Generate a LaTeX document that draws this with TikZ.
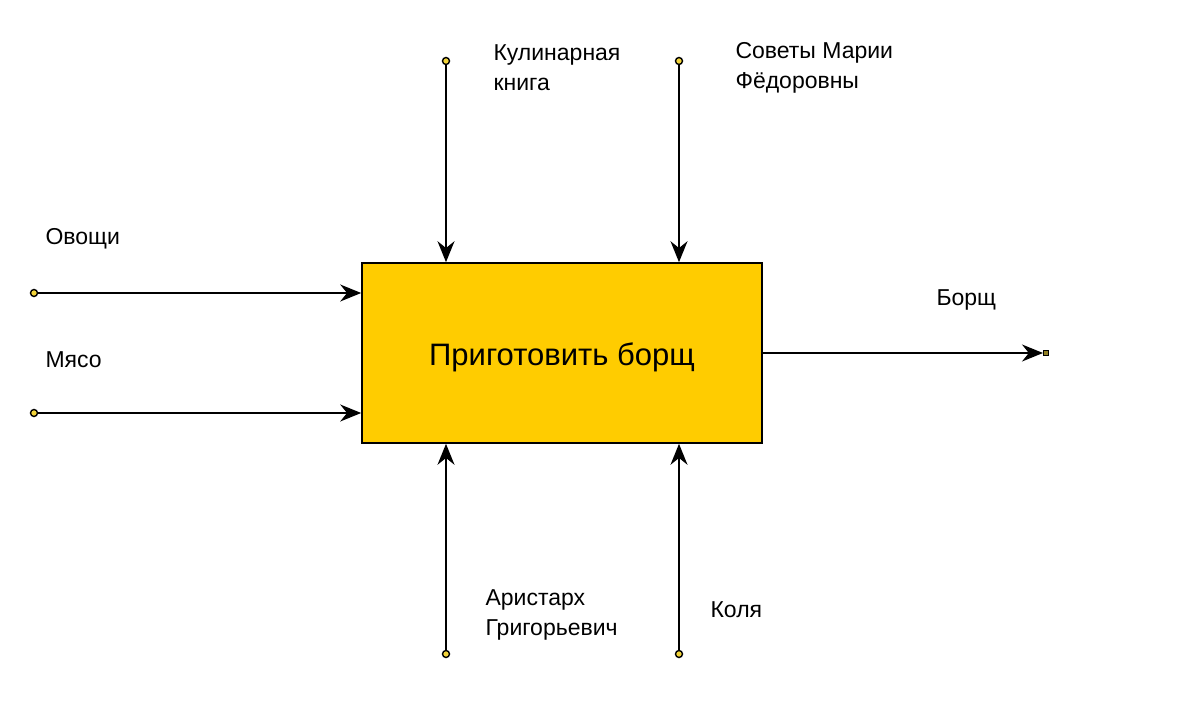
\documentclass[tikz,border=0pt]{standalone}
\usepackage{fontspec}
\setmainfont{Liberation Sans}
\usetikzlibrary{arrows.meta,positioning}

\begin{document}
\begin{tikzpicture}[
    x=1pt, y=-1pt,
    process/.style={
        rectangle,
        draw=black,
        fill=funccolor,
        line width=1.6pt,
        minimum width=400pt,
        minimum height=180pt
    },
    dot/.style={
        circle,
        draw=black,
        fill=dotcolor,
        line width=1.4pt,
        inner sep=0pt,
        minimum size=7pt
    },
    arrow/.style={
        -{Stealth[length=21pt,width=17pt]},
        line width=1.6pt
    },
    lbl/.style={
        anchor=west,
        align=left,
        font=\fontsize{23}{30}\selectfont
    }
]

% Colour Palette
\definecolor{funccolor}{HTML}{FFCC00}
\definecolor{dotcolor}{HTML}{F2D43A}

\useasboundingbox (0,0) rectangle (1200,703);

% Function block
\node[process] (box) at (562,353) {};
\node[font=\fontsize{31}{36}\selectfont] (boxtxt) at (562,357) {Приготовить борщ};

% Inputs
\node[dot] (veg) at (34,293) {};
\node[dot] (meat) at (34,413) {};
\node[lbl] (veglbl) at (42,239) {Овощи};
\node[lbl] (meatlbl) at (42,360) {Мясо};

% Controls
\node[dot] (book) at (446,61) {};
\node[dot] (advice) at (679,61) {};
\node[lbl] (booklbl) at (490,68) {Кулинарная\\книга};
\node[lbl] (advicelbl) at (732,68) {Советы Марии\\Фёдоровны};

% Mechanisms
\node[dot] (aristarkh) at (446,654) {};
\node[dot] (kolya) at (679,654) {};
\node[lbl] (aristarkhlbl) at (482,615) {Аристарх\\Григорьевич};
\node[lbl] (kolyalbl) at (707,610) {Коля};

% Output
\node[rectangle, draw=black, fill=dotcolor!60!black, line width=1pt,
      inner sep=0pt, minimum size=5pt] (borsch) at (1046,353) {};
\node[lbl] (borschlbl) at (933,300) {Борщ};

% Arrows
\draw[arrow] (veg) -- (veg -| box.west);
\draw[arrow] (meat) -- (meat -| box.west);
\draw[arrow] (book) -- (book |- box.north);
\draw[arrow] (advice) -- (advice |- box.north);
\draw[arrow] (aristarkh) -- (aristarkh |- box.south);
\draw[arrow] (kolya) -- (kolya |- box.south);
\draw[arrow] (box.east |- borsch) -- (borsch.west);

\end{tikzpicture}
\end{document}
